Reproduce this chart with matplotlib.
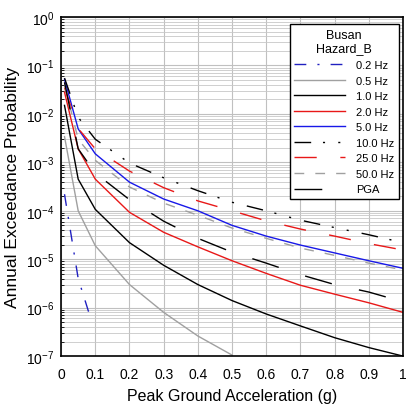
import matplotlib
matplotlib.use("Agg")
import matplotlib.pyplot as plt
from matplotlib.ticker import FixedLocator, FuncFormatter, NullFormatter

plt.rcParams['font.family'] = ['Liberation Sans', 'DejaVu Sans']

# valores (aceleracion en g, probabilidad anual)
pga = [0.01, 0.05, 0.1, 0.2, 0.3, 0.4, 0.5, 0.6, 0.7, 0.8, 0.9, 1.0]
pga_02 = [0.01, 0.05, 0.09]
pga_05 = [0.01, 0.05, 0.1, 0.2, 0.3, 0.4, 0.5]

p_02hz = [2.2e-4, 4.0e-6, 5.0e-7]
p_05hz = [3.4e-3, 1.0e-4, 1.9e-5, 3.0e-6, 8.0e-7, 2.6e-7, 1.05e-7]
p_1hz = [1.5e-2, 4.5e-4, 1.07e-4, 2.2e-5, 7.5e-6, 3.0e-6, 1.4e-6, 7.4e-7, 4.2e-7, 2.4e-7, 1.5e-7, 1.0e-7]
p_2hz = [2.8e-2, 1.9e-3, 4.5e-4, 9.3e-5, 3.6e-5, 1.8e-5, 9.3e-6, 5.1e-6, 2.9e-6, 1.9e-6, 1.26e-6, 8.0e-7]
p_5hz = [5.2e-2, 4.9e-3, 1.5e-3, 3.9e-4, 1.75e-4, 1.0e-4, 5.0e-5, 3.0e-5, 1.96e-5, 1.35e-5, 9.3e-6, 6.5e-6]
p_10hz = [5.5e-2, 8.5e-3, 3.0e-3, 9.7e-4, 4.8e-4, 2.6e-4, 1.5e-4, 1.0e-4, 6.4e-5, 4.5e-5, 3.2e-5, 2.2e-5]
p_25hz = [3.5e-2, 5.0e-3, 1.9e-3, 6.6e-4, 3.0e-4, 1.6e-4, 1.0e-4, 6.2e-5, 4.2e-5, 3.0e-5, 2.1e-5, 1.55e-5]
p_50hz = [4.0e-2, 3.0e-3, 1.1e-3, 3.1e-4, 1.44e-4, 8.1e-5, 4.4e-5, 2.7e-5, 1.7e-5, 1.2e-5, 8.3e-6, 6.0e-6]
p_pga = [4.5e-2, 1.9e-3, 6.0e-4, 1.7e-4, 6.1e-5, 2.7e-5, 1.4e-5, 8.3e-6, 4.8e-6, 3.0e-6, 2.1e-6, 1.32e-6]

x_ticks = [0, 0.1, 0.2, 0.3, 0.4, 0.5, 0.6, 0.7, 0.8, 0.9, 1.0]
y_exp = [0, -1, -2, -3, -4, -5, -6, -7]

fig = plt.figure(figsize=(4.1, 4.1), dpi=100)
ax = fig.add_axes([0.149, 0.129, 0.834, 0.827])

ax.plot(pga_02, p_02hz, color='#2020c0', lw=1, dashes=[8.5, 8, 1.5, 8], label='0.2 Hz')
ax.plot(pga_05, p_05hz, color='#a0a0a0', lw=1, label='0.5 Hz')
ax.plot(pga, p_1hz, color='black', lw=1, label='1.0 Hz')
ax.plot(pga, p_2hz, color='#e81818', lw=1, label='2.0 Hz')
ax.plot(pga, p_5hz, color='#1818e8', lw=1, label='5.0 Hz')
ax.plot(pga, p_10hz, color='black', lw=1, dashes=[12, 8.5, 1.5, 9.5, 1.5, 9.5], label='10.0 Hz')
ax.plot(pga, p_25hz, color='#e81818', lw=1, dashes=[16, 17], label='25.0 Hz')
ax.plot(pga, p_50hz, color='#a0a0a0', lw=1, dashes=[7, 8], label='50.0 Hz')
ax.plot(pga, p_pga, color='black', lw=1, dashes=[20, 20], label='PGA')

ax.set_yscale('log')
ax.set_xlim(0, 1)
ax.set_ylim(1e-7, 1)
ax.xaxis.set_major_locator(FixedLocator(x_ticks))
ax.xaxis.set_major_formatter(FuncFormatter(lambda v, p: '{:g}'.format(v)))

# decadas y lineas menores solo dentro del rango visible
ax.yaxis.set_major_locator(FixedLocator([10.0 ** e for e in y_exp]))
ax.yaxis.set_major_formatter(FuncFormatter(
    lambda v, p: r'$\mathdefault{10^{%d}}$' % round(__import__('math').log10(v))))
menores = [m * 10.0 ** e for e in y_exp[1:] for m in range(2, 10)]
ax.yaxis.set_minor_locator(FixedLocator(menores))
ax.yaxis.set_minor_formatter(NullFormatter())

ax.grid(True, which='major', color='#c0c0c0', lw=0.8)
ax.grid(True, which='minor', axis='y', color='#c8c8c8', lw=0.6)
ax.set_axisbelow(True)

ax.tick_params(which='both', direction='in', length=0, labelsize=10)
ax.tick_params(axis='x', pad=8)
ax.tick_params(axis='y', pad=5)
ax.tick_params(axis='y', which='minor', length=2, direction='in', left=True)
for s in ax.spines.values():
    s.set_linewidth(1.2)

ax.set_xlabel('Peak Ground Acceleration (g)', fontsize=11.5, labelpad=5)
ax.set_ylabel('Annual Exceedance Probability', fontsize=12.5, labelpad=4)

leg = ax.legend(title='Busan\nHazard_B', loc='upper right', bbox_to_anchor=(0.988, 0.979),
                fontsize=8, title_fontsize=9, fancybox=False, framealpha=1,
                edgecolor='black', handlelength=4.6, labelspacing=0.5,
                borderaxespad=0, handletextpad=1.0)
leg.get_frame().set_linewidth(1)
leg.get_title().set_multialignment('center')

fig.savefig('out.png', dpi=100)
